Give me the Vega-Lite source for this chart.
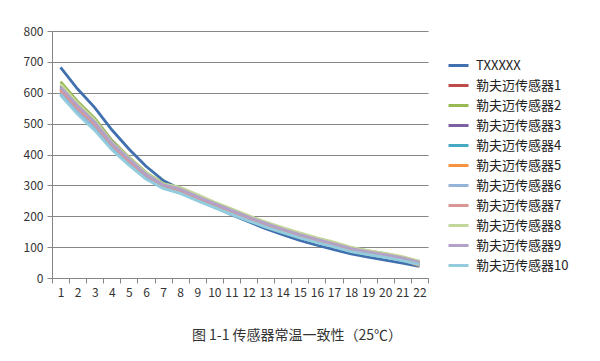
{
  "$schema": "https://vega.github.io/schema/vega-lite/v6.json",
  "width": 376,
  "height": 247,
  "autosize": {"type": "none"},
  "padding": {"left": 52, "top": 31, "right": 172, "bottom": 83},
  "background": "white",
  "title": {
    "text": "图 1-1 传感器常温一致性（25℃）",
    "orient": "bottom",
    "anchor": "middle",
    "offset": 31,
    "fontSize": 14,
    "fontWeight": "normal",
    "font": "Noto Sans CJK SC",
    "color": "#333333",
    "dx": 57
  },
  "config": {
    "view": {"stroke": null},
    "font": "Noto Sans CJK SC"
  },
  "data": {
    "values": [
      {"x": 1, "TXXXXX": 682, "勒夫迈传感器1": 612, "勒夫迈传感器2": 636, "勒夫迈传感器3": 622, "勒夫迈传感器4": 595, "勒夫迈传感器5": 605, "勒夫迈传感器6": 600, "勒夫迈传感器7": 610, "勒夫迈传感器8": 628, "勒夫迈传感器9": 618, "勒夫迈传感器10": 592},
      {"x": 2, "TXXXXX": 612, "勒夫迈传感器1": 552, "勒夫迈传感器2": 572, "勒夫迈传感器3": 562, "勒夫迈传感器4": 535, "勒夫迈传感器5": 548, "勒夫迈传感器6": 542, "勒夫迈传感器7": 550, "勒夫迈传感器8": 566, "勒夫迈传感器9": 558, "勒夫迈传感器10": 530},
      {"x": 3, "TXXXXX": 552, "勒夫迈传感器1": 500, "勒夫迈传感器2": 518, "勒夫迈传感器3": 510, "勒夫迈传感器4": 482, "勒夫迈传感器5": 495, "勒夫迈传感器6": 490, "勒夫迈传感器7": 498, "勒夫迈传感器8": 512, "勒夫迈传感器9": 505, "勒夫迈传感器10": 478},
      {"x": 4, "TXXXXX": 480, "勒夫迈传感器1": 440, "勒夫迈传感器2": 446, "勒夫迈传感器3": 442, "勒夫迈传感器4": 420, "勒夫迈传感器5": 438, "勒夫迈传感器6": 425, "勒夫迈传感器7": 432, "勒夫迈传感器8": 440, "勒夫迈传感器9": 436, "勒夫迈传感器10": 415},
      {"x": 5, "TXXXXX": 418, "勒夫迈传感器1": 385, "勒夫迈传感器2": 392, "勒夫迈传感器3": 388, "勒夫迈传感器4": 370, "勒夫迈传感器5": 378, "勒夫迈传感器6": 372, "勒夫迈传感器7": 380, "勒夫迈传感器8": 390, "勒夫迈传感器9": 386, "勒夫迈传感器10": 365},
      {"x": 6, "TXXXXX": 362, "勒夫迈传感器1": 335, "勒夫迈传感器2": 342, "勒夫迈传感器3": 338, "勒夫迈传感器4": 322, "勒夫迈传感器5": 330, "勒夫迈传感器6": 326, "勒夫迈传感器7": 333, "勒夫迈传感器8": 340, "勒夫迈传感器9": 336, "勒夫迈传感器10": 320},
      {"x": 7, "TXXXXX": 316, "勒夫迈传感器1": 300, "勒夫迈传感器2": 306, "勒夫迈传感器3": 303, "勒夫迈传感器4": 292, "勒夫迈传感器5": 298, "勒夫迈传感器6": 294, "勒夫迈传感器7": 300, "勒夫迈传感器8": 305, "勒夫迈传感器9": 302, "勒夫迈传感器10": 290},
      {"x": 8, "TXXXXX": 288, "勒夫迈传感器1": 284, "勒夫迈传感器2": 292, "勒夫迈传感器3": 287, "勒夫迈传感器4": 276, "勒夫迈传感器5": 282, "勒夫迈传感器6": 278, "勒夫迈传感器7": 284, "勒夫迈传感器8": 294, "勒夫迈传感器9": 288, "勒夫迈传感器10": 274},
      {"x": 9, "TXXXXX": 258, "勒夫迈传感器1": 260, "勒夫迈传感器2": 268, "勒夫迈传感器3": 263, "勒夫迈传感器4": 252, "勒夫迈传感器5": 258, "勒夫迈传感器6": 255, "勒夫迈传感器7": 261, "勒夫迈传感器8": 270, "勒夫迈传感器9": 264, "勒夫迈传感器10": 250},
      {"x": 10, "TXXXXX": 230, "勒夫迈传感器1": 237, "勒夫迈传感器2": 244, "勒夫迈传感器3": 240, "勒夫迈传感器4": 230, "勒夫迈传感器5": 236, "勒夫迈传感器6": 232, "勒夫迈传感器7": 238, "勒夫迈传感器8": 246, "勒夫迈传感器9": 241, "勒夫迈传感器10": 228},
      {"x": 11, "TXXXXX": 205, "勒夫迈传感器1": 214, "勒夫迈传感器2": 222, "勒夫迈传感器3": 218, "勒夫迈传感器4": 208, "勒夫迈传感器5": 213, "勒夫迈传感器6": 210, "勒夫迈传感器7": 216, "勒夫迈传感器8": 224, "勒夫迈传感器9": 219, "勒夫迈传感器10": 206},
      {"x": 12, "TXXXXX": 182, "勒夫迈传感器1": 192, "勒夫迈传感器2": 200, "勒夫迈传感器3": 196, "勒夫迈传感器4": 187, "勒夫迈传感器5": 192, "勒夫迈传感器6": 189, "勒夫迈传感器7": 194, "勒夫迈传感器8": 202, "勒夫迈传感器9": 197, "勒夫迈传感器10": 185},
      {"x": 13, "TXXXXX": 160, "勒夫迈传感器1": 172, "勒夫迈传感器2": 180, "勒夫迈传感器3": 176, "勒夫迈传感器4": 167, "勒夫迈传感器5": 172, "勒夫迈传感器6": 169, "勒夫迈传感器7": 174, "勒夫迈传感器8": 181, "勒夫迈传感器9": 177, "勒夫迈传感器10": 165},
      {"x": 14, "TXXXXX": 140, "勒夫迈传感器1": 154, "勒夫迈传感器2": 161, "勒夫迈传感器3": 157, "勒夫迈传感器4": 149, "勒夫迈传感器5": 154, "勒夫迈传感器6": 151, "勒夫迈传感器7": 156, "勒夫迈传感器8": 163, "勒夫迈传感器9": 158, "勒夫迈传感器10": 147},
      {"x": 15, "TXXXXX": 122, "勒夫迈传感器1": 137, "勒夫迈传感器2": 144, "勒夫迈传感器3": 140, "勒夫迈传感器4": 132, "勒夫迈传感器5": 137, "勒夫迈传感器6": 134, "勒夫迈传感器7": 139, "勒夫迈传感器8": 146, "勒夫迈传感器9": 141, "勒夫迈传感器10": 130},
      {"x": 16, "TXXXXX": 106, "勒夫迈传感器1": 121, "勒夫迈传感器2": 128, "勒夫迈传感器3": 124, "勒夫迈传感器4": 117, "勒夫迈传感器5": 121, "勒夫迈传感器6": 118, "勒夫迈传感器7": 123, "勒夫迈传感器8": 130, "勒夫迈传感器9": 125, "勒夫迈传感器10": 115},
      {"x": 17, "TXXXXX": 92, "勒夫迈传感器1": 107, "勒夫迈传感器2": 114, "勒夫迈传感器3": 110, "勒夫迈传感器4": 103, "勒夫迈传感器5": 107, "勒夫迈传感器6": 104, "勒夫迈传感器7": 109, "勒夫迈传感器8": 116, "勒夫迈传感器9": 111, "勒夫迈传感器10": 101},
      {"x": 18, "TXXXXX": 78, "勒夫迈传感器1": 91, "勒夫迈传感器2": 98, "勒夫迈传感器3": 94, "勒夫迈传感器4": 87, "勒夫迈传感器5": 90, "勒夫迈传感器6": 88, "勒夫迈传感器7": 93, "勒夫迈传感器8": 99, "勒夫迈传感器9": 95, "勒夫迈传感器10": 85},
      {"x": 19, "TXXXXX": 68, "勒夫迈传感器1": 82, "勒夫迈传感器2": 88, "勒夫迈传感器3": 84, "勒夫迈传感器4": 78, "勒夫迈传感器5": 80, "勒夫迈传感器6": 79, "勒夫迈传感器7": 83, "勒夫迈传感器8": 89, "勒夫迈传感器9": 85, "勒夫迈传感器10": 76},
      {"x": 20, "TXXXXX": 58, "勒夫迈传感器1": 73, "勒夫迈传感器2": 79, "勒夫迈传感器3": 75, "勒夫迈传感器4": 69, "勒夫迈传感器5": 71, "勒夫迈传感器6": 70, "勒夫迈传感器7": 74, "勒夫迈传感器8": 80, "勒夫迈传感器9": 76, "勒夫迈传感器10": 67},
      {"x": 21, "TXXXXX": 48, "勒夫迈传感器1": 62, "勒夫迈传感器2": 68, "勒夫迈传感器3": 64, "勒夫迈传感器4": 58, "勒夫迈传感器5": 60, "勒夫迈传感器6": 59, "勒夫迈传感器7": 63, "勒夫迈传感器8": 69, "勒夫迈传感器9": 65, "勒夫迈传感器10": 56},
      {"x": 22, "TXXXXX": 38, "勒夫迈传感器1": 48, "勒夫迈传感器2": 54, "勒夫迈传感器3": 50, "勒夫迈传感器4": 44, "勒夫迈传感器5": 40, "勒夫迈传感器6": 45, "勒夫迈传感器7": 49, "勒夫迈传感器8": 54, "勒夫迈传感器9": 51, "勒夫迈传感器10": 43}
    ]
  },
  "transform": [
    {"fold": ["TXXXXX", "勒夫迈传感器1", "勒夫迈传感器2", "勒夫迈传感器3", "勒夫迈传感器4", "勒夫迈传感器5", "勒夫迈传感器6", "勒夫迈传感器7", "勒夫迈传感器8", "勒夫迈传感器9", "勒夫迈传感器10"], "as": ["series", "value"]}
  ],
  "mark": {"type": "line", "strokeWidth": 2.8, "interpolate": "linear"},
  "encoding": {
    "x": {
      "field": "x",
      "type": "ordinal",
      "scale": {"type": "band", "paddingInner": 0, "paddingOuter": 0},
      "axis": {
        "title": null,
        "labelAngle": 0,
        "tickBand": "extent",
        "tickSize": 5,
        "tickColor": "#868686",
        "domainColor": "#868686",
        "labelFontSize": 12,
        "labelColor": "#333333",
        "labelPadding": 4,
        "grid": false
      }
    },
    "y": {
      "field": "value",
      "type": "quantitative",
      "scale": {"domain": [0, 800], "nice": false},
      "axis": {
        "title": null,
        "values": [0, 100, 200, 300, 400, 500, 600, 700, 800],
        "tickSize": 5,
        "tickColor": "#868686",
        "domainColor": "#868686",
        "gridColor": "#868686",
        "gridOpacity": 1,
        "labelFontSize": 12,
        "labelColor": "#333333",
        "labelPadding": 4
      }
    },
    "color": {
      "field": "series",
      "type": "nominal",
      "scale": {
        "domain": ["TXXXXX", "勒夫迈传感器1", "勒夫迈传感器2", "勒夫迈传感器3", "勒夫迈传感器4", "勒夫迈传感器5", "勒夫迈传感器6", "勒夫迈传感器7", "勒夫迈传感器8", "勒夫迈传感器9", "勒夫迈传感器10"],
        "range": ["#4170AE", "#BE4B48", "#98B954", "#7D60A0", "#46AAC5", "#F69240", "#95B3D7", "#D99694", "#C3D69B", "#B3A2C7", "#93CDDD"]
      },
      "legend": {
        "title": null,
        "orient": "none",
        "legendX": 395,
        "legendY": 23,
        "symbolType": "stroke",
        "symbolStrokeWidth": 3,
        "symbolSize": 400,
        "labelFontSize": 13,
        "labelColor": "#222222",
        "rowPadding": 1,
        "labelOffset": 6
      }
    }
  }
}
